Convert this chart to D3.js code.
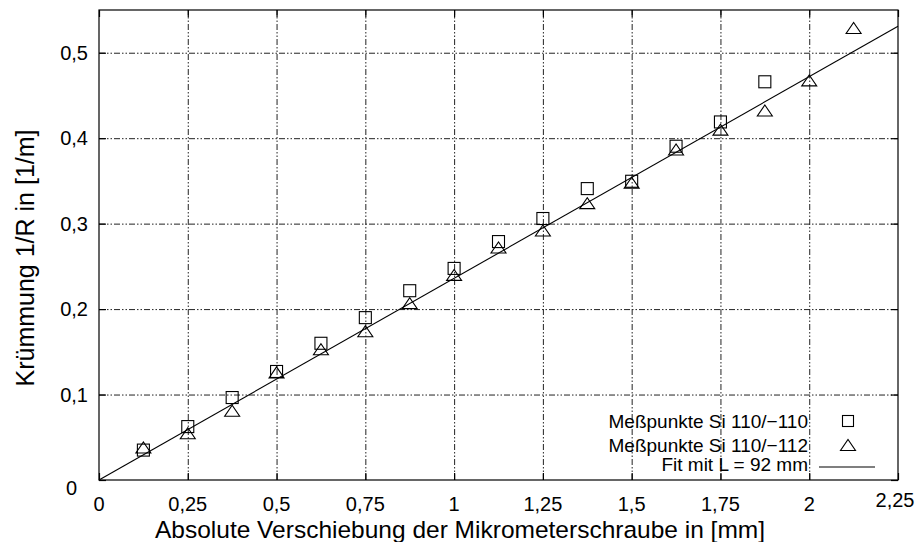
<!DOCTYPE html>
<html><head><meta charset="utf-8">
<script src="https://cdn.jsdelivr.net/npm/d3@7"></script>
<style>body{margin:0;background:#fff} text{font-family:"Liberation Sans",Arial,Helvetica,sans-serif;fill:#000}</style>
</head><body>
<svg id="c" width="920" height="542"></svg>
<script>
// ---- data ----
const xTicks = [0, 0.25, 0.5, 0.75, 1, 1.25, 1.5, 1.75, 2, 2.25];
const xTickLabels = ["0", "0,25", "0,5", "0,75", "1", "1,25", "1,5", "1,75", "2", "2,25"];
const yTicks = [0, 0.1, 0.2, 0.3, 0.4, 0.5];
const yTickLabels = ["0", "0,1", "0,2", "0,3", "0,4", "0,5"];

const posSquares = [0.125, 0.25, 0.375, 0.5, 0.625, 0.75, 0.875, 1.0, 1.125, 1.25, 1.375, 1.5, 1.625, 1.75, 1.875];
const valSquares = [0.035, 0.0625, 0.0965, 0.127, 0.160, 0.190, 0.2215, 0.2476, 0.279, 0.306, 0.341, 0.3496, 0.3906, 0.419, 0.466];

const posTriangles = [0.125, 0.25, 0.375, 0.5, 0.625, 0.75, 0.875, 1.0, 1.125, 1.25, 1.375, 1.5, 1.625, 1.75, 1.875, 2.0, 2.125];
const valTriangles = [0.038, 0.0547, 0.081, 0.126, 0.153, 0.174, 0.207, 0.240, 0.272, 0.292, 0.324, 0.348, 0.3867, 0.410, 0.4324, 0.4676, 0.529];

const fitX = [0, 2.25];
const fitY = [0, 0.531];

const legendLabels = ["Meßpunkte Si 110/\u2212110", "Meßpunkte Si 110/\u2212112", "Fit mit L = 92 mm"];
const xTitle = "Absolute Verschiebung der Mikrometerschraube in [mm]";
const yTitle = "Krümmung 1/R in [1/m]";

// ---- layout ----
const m = {left: 99, top: 10, right: 898, bottom: 480};
const svg = d3.select("#c");
const x = d3.scaleLinear().domain([0, 2.25]).range([m.left, m.right]);
const y = d3.scaleLinear().domain([0, 0.55]).range([m.bottom, m.top]);
const pw = m.right - m.left, ph = m.bottom - m.top;

// grid
const gridDash = "6,2,1.5,2,1.5,2";
svg.append("g").attr("transform", `translate(0,${m.bottom})`)
  .call(d3.axisBottom(x).tickValues(xTicks.filter(v => v > 0 && v < 2.25)).tickSize(-ph).tickFormat(""))
  .call(g => g.select(".domain").remove())
  .call(g => g.selectAll("line").attr("stroke", "#222").attr("stroke-width", 1).attr("stroke-dasharray", gridDash));
svg.append("g").attr("transform", `translate(${m.left},0)`)
  .call(d3.axisLeft(y).tickValues(yTicks.filter(v => v > 0)).tickSize(-pw).tickFormat(""))
  .call(g => g.select(".domain").remove())
  .call(g => g.selectAll("line").attr("stroke", "#222").attr("stroke-width", 1).attr("stroke-dasharray", gridDash));

// border
svg.append("rect").attr("x", m.left).attr("y", m.top).attr("width", pw).attr("height", ph)
  .attr("fill", "none").attr("stroke", "#000").attr("stroke-width", 1.2);

// ticks (inward, mirrored)
const tl = 7;
const styleAxis = g => { g.select(".domain").remove(); g.selectAll("line").attr("stroke", "#000").attr("stroke-width", 1.2); };
svg.append("g").attr("transform", `translate(0,${m.bottom})`)
  .call(d3.axisBottom(x).tickValues(xTicks).tickSize(-tl).tickFormat(""))
  .call(styleAxis);
svg.append("g").attr("transform", `translate(0,${m.top})`)
  .call(d3.axisTop(x).tickValues(xTicks).tickSize(-tl).tickFormat(""))
  .call(styleAxis);
svg.append("g").attr("transform", `translate(${m.left},0)`)
  .call(d3.axisLeft(y).tickValues(yTicks).tickSize(-tl).tickFormat(""))
  .call(styleAxis);
svg.append("g").attr("transform", `translate(${m.right},0)`)
  .call(d3.axisRight(y).tickValues(yTicks).tickSize(-tl).tickFormat(""))
  .call(styleAxis);

// tick labels
svg.append("g").selectAll("text").data(xTicks).join("text")
  .attr("x", (d, i) => x(d) - (i === xTicks.length - 1 ? 3 : 0))
  .attr("y", (d, i) => (i === xTicks.length - 1 ? 507 : 511))
  .attr("text-anchor", "middle").attr("font-size", 20)
  .text((d, i) => xTickLabels[i]);
svg.append("g").selectAll("text").data(yTicks).join("text")
  .attr("x", (d, i) => m.left - (i === 0 ? 22 : 11))
  .attr("y", (d, i) => y(d) + (i === 0 ? 15 : 7))
  .attr("text-anchor", "end").attr("font-size", 20)
  .text((d, i) => yTickLabels[i]);

// axis titles
svg.append("text").attr("x", 460).attr("y", 538).attr("text-anchor", "middle")
  .attr("font-size", 24.5).text(xTitle);
svg.append("text").attr("transform", "translate(34,258) rotate(-90)").attr("text-anchor", "middle")
  .attr("font-size", 25).text(yTitle);

// fit line
const line = d3.line().x(d => x(d[0])).y(d => y(d[1]));
svg.append("path").datum(fitX.map((v, i) => [v, fitY[i]])).attr("d", line)
  .attr("fill", "none").attr("stroke", "#000").attr("stroke-width", 1.1);

// markers
const sq = 12;
const triPath = (cx, cy) => `M${cx - 7.5},${cy + 5.5}L${cx + 7.5},${cy + 5.5}L${cx},${cy - 5.5}Z`;
svg.append("g").selectAll("rect").data(posSquares).join("rect")
  .attr("x", (d) => x(d) - sq / 2).attr("y", (d, i) => y(valSquares[i]) - sq / 2)
  .attr("width", sq).attr("height", sq)
  .attr("fill", "none").attr("stroke", "#000").attr("stroke-width", 1.1);
svg.append("g").selectAll("path").data(posTriangles).join("path")
  .attr("d", (d, i) => triPath(x(d), y(valTriangles[i])))
  .attr("fill", "none").attr("stroke", "#000").attr("stroke-width", 1.1);

// legend
const lg = svg.append("g");
const lx = 808, mx = 848, rowsY = [421, 445, 464];
lg.selectAll("text").data(legendLabels).join("text")
  .attr("x", lx).attr("y", (d, i) => rowsY[i] + 6.5).attr("text-anchor", "end")
  .attr("font-size", 19).text(d => d);
lg.append("rect").attr("x", mx - 5.5).attr("y", rowsY[0] - 5.5).attr("width", 11).attr("height", 11)
  .attr("fill", "none").attr("stroke", "#000").attr("stroke-width", 1.1);
lg.append("path").attr("d", triPath(mx, rowsY[1]))
  .attr("fill", "none").attr("stroke", "#000").attr("stroke-width", 1.1);
lg.append("line").attr("x1", 819).attr("x2", 875).attr("y1", 467).attr("y2", 467)
  .attr("stroke", "#000").attr("stroke-width", 1.1);
</script>
</body></html>
